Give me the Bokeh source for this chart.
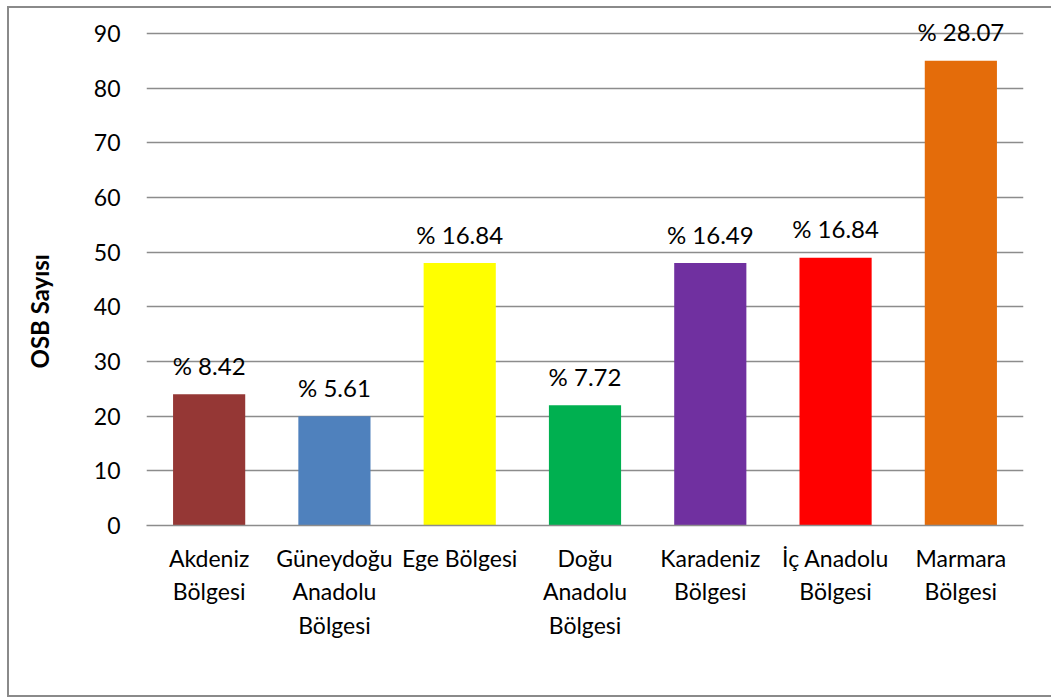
from bokeh.plotting import figure
from bokeh.models import (ColumnDataSource, Range1d, FixedTicker, Title, LinearAxis,
                          CustomLabelingPolicy)
from bokeh.core.properties import value
from bokeh.embed import file_html
from bokeh.resources import INLINE

regions = ["Akdeniz\nBölgesi", "Güneydoğu\nAnadolu\nBölgesi", "Ege Bölgesi",
           "Doğu\nAnadolu\nBölgesi", "Karadeniz\nBölgesi", "İç Anadolu\nBölgesi",
           "Marmara\nBölgesi"]
osb_counts = [24, 20, 48, 22, 48, 49, 85]
pct_labels = ["% 8.42", "% 5.61", "% 16.84", "% 7.72", "% 16.49", "% 16.84", "% 28.07"]
bar_colors = ["#953735", "#4F81BD", "#FFFF00", "#00B050", "#7030A0", "#FF0000", "#E46C0A"]
y_ticks = [0, 10, 20, 30, 40, 50, 60, 70, 80, 90]
y_title = "OSB  Sayısı"

FONT = "Lato"
GRID = "#8c8c8c"
W, H = 1042, 687

src = ColumnDataSource(dict(x=regions, y=osb_counts, t=pct_labels, c=bar_colors))

p = figure(x_range=regions, y_range=Range1d(0, 94.03), width=W, height=H,
           output_backend="svg", toolbar_location=None,
           min_border_left=137, min_border_right=30, min_border_top=3, min_border_bottom=174)
p.styles = {"margin-left": "7px", "margin-top": "6px",
            "border-left": "2px solid #8a8a8a", "border-top": "2px solid #8a8a8a",
            "border-bottom": "2px solid #8a8a8a", "box-sizing": "content-box"}
p.outline_line_color = None
p.background_fill_color = "white"
p.border_fill_color = "white"

p.vbar(x="x", top="y", width=0.576, color="c", source=src, line_color=None)
p.text(x="x", y="y", text="t", source=src, text_align="center", text_baseline="alphabetic",
       y_offset=-29, text_font=value(FONT), text_font_size="24px", text_color="black")

p.xgrid.grid_line_color = None
p.ygrid.grid_line_color = GRID
p.ygrid.grid_line_width = 1.5
p.yaxis.ticker = FixedTicker(ticks=y_ticks)

p.yaxis.axis_line_color = None
p.yaxis.major_tick_line_color = None
p.yaxis.minor_tick_line_color = None
p.yaxis.major_tick_out = 0
p.yaxis.major_label_standoff = 26
p.yaxis.major_label_text_font = FONT
p.yaxis.major_label_text_font_size = "23px"
p.yaxis.major_label_text_color = "black"

p.xaxis.axis_line_color = GRID
p.xaxis.axis_line_width = 1.5
p.xaxis.major_tick_line_color = None
p.xaxis.minor_tick_line_color = None
p.xaxis.major_tick_out = 0
p.xaxis.major_label_standoff = 18
p.xaxis.major_label_text_font = FONT
p.xaxis.major_label_text_font_size = "23px"
p.xaxis.major_label_text_color = "black"

# invisible spacer axis (one hidden tick, all labels filtered out) to push the y title outward
spacer = LinearAxis(ticker=FixedTicker(ticks=[0]), axis_line_color=None,
                    major_tick_line_color=None, minor_tick_line_color=None,
                    major_tick_out=32, minor_tick_out=0, major_label_standoff=0,
                    major_label_text_font_size="1px",
                    major_label_policy=CustomLabelingPolicy(
                        code="for (const i of indices) indices.unset(i)"))
p.add_layout(spacer, "left")

p.add_layout(Title(text=y_title, align="left", offset=157, vertical_align="middle",
                   text_font=FONT, text_font_size="24px", text_font_style="bold",
                   text_color="black", standoff=0), "left")

open("out.html", "w").write(file_html(p, INLINE))
